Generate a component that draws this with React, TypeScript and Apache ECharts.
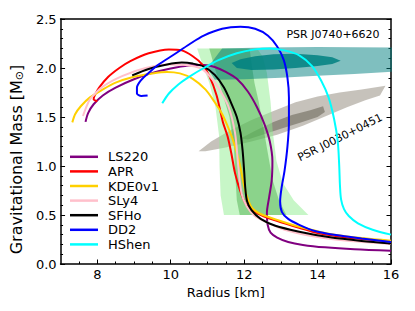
import React, { useEffect, useRef } from "react";
import * as echarts from "echarts";

// ---- Data (Radius [km], Gravitational Mass [Msun]) ----
const eosNames = ["LS220", "APR", "KDE0v1", "SLy4", "SFHo", "DD2", "HShen"];
const eosColors = ["#800080", "#ff0000", "#ffd000", "#ffc0cb", "#000000", "#0000ff", "#00ffff"];

const LS220 = [[7.68,1.45],[7.75,1.54],[7.9,1.63],[8.15,1.72],[8.5,1.8],[9.0,1.885],[9.5,1.95],[10.0,1.995],[10.5,2.025],[10.9,2.03],[11.2,2.01],[11.5,1.96],[11.8,1.89],[12.1,1.76],[12.35,1.6],[12.55,1.43],[12.7,1.25],[12.77,1.05],[12.75,0.85],[12.68,0.68],[12.62,0.52],[12.64,0.4],[12.72,0.32],[12.9,0.27],[13.2,0.225],[13.6,0.195],[14.2,0.17],[15.0,0.15],[16.0,0.135]];
const APR = [[8.0,1.66],[7.9,1.68],[7.93,1.72],[8.05,1.8],[8.3,1.91],[8.6,2.0],[8.9,2.07],[9.4,2.15],[9.95,2.19],[10.3,2.18],[10.6,2.12],[10.85,2.04],[11.05,1.92],[11.25,1.72],[11.42,1.45],[11.55,1.3],[11.65,1.13],[11.75,0.93],[11.88,0.76],[12.05,0.61],[12.35,0.52],[12.8,0.45],[13.5,0.37],[14.0,0.315],[14.8,0.27],[16.0,0.232]];
const KDE0v1 = [[7.32,1.445],[7.4,1.53],[7.55,1.61],[7.8,1.7],[8.1,1.77],[8.5,1.85],[9.0,1.91],[9.5,1.945],[9.9,1.96],[10.25,1.945],[10.6,1.89],[10.95,1.78],[11.2,1.65],[11.4,1.53],[11.6,1.36],[11.75,1.2],[11.88,1.02],[11.97,0.85],[12.05,0.72],[12.2,0.58],[12.45,0.51],[12.9,0.45],[13.5,0.38],[14.3,0.31],[15.2,0.265],[16.0,0.238]];
const SLy4 = [[7.61,1.51],[7.7,1.6],[7.8,1.68],[8.15,1.81],[8.69,1.92],[9.32,2.0],[9.95,2.035],[10.4,2.03],[10.85,1.99],[11.1,1.9],[11.3,1.8],[11.57,1.61],[11.75,1.34],[11.84,1.0],[11.93,0.72],[12.07,0.59],[12.29,0.49],[12.65,0.42],[13.1,0.35],[14.0,0.275],[14.9,0.235],[16.0,0.205]];
const SFHo = [[8.95,1.925],[9.4,1.99],[9.9,2.035],[10.3,2.055],[10.6,2.045],[10.9,2.015],[11.2,1.93],[11.45,1.8],[11.65,1.64],[11.8,1.5],[11.9,1.34],[11.96,1.15],[12.0,0.95],[12.03,0.78],[12.08,0.64],[12.2,0.55],[12.45,0.46],[12.85,0.39],[13.5,0.33],[14.3,0.275],[15.2,0.235],[16.0,0.21]];
const DD2 = [[9.37,1.72],[9.2,1.715],[9.08,1.74],[9.08,1.8],[9.2,1.88],[9.4,1.95],[9.65,2.03],[10.1,2.14],[10.5,2.24],[10.9,2.33],[11.4,2.4],[11.9,2.42],[12.3,2.4],[12.65,2.33],[12.9,2.22],[13.08,2.08],[13.18,1.9],[13.22,1.7],[13.22,1.45],[13.18,1.2],[13.1,0.95],[13.02,0.78],[12.98,0.64],[13.03,0.53],[13.2,0.46],[13.5,0.4],[13.9,0.34],[14.5,0.295],[15.2,0.26],[16.0,0.225]];
const HShen = [[9.77,1.64],[9.95,1.74],[10.2,1.83],[10.5,1.91],[10.9,2.0],[11.3,2.08],[11.8,2.15],[12.3,2.19],[12.7,2.2],[13.1,2.18],[13.5,2.13],[13.85,2.02],[14.1,1.87],[14.3,1.7],[14.45,1.48],[14.55,1.25],[14.59,1.0],[14.61,0.8],[14.64,0.66],[14.72,0.56],[14.85,0.49],[15.1,0.415],[15.5,0.35],[16.0,0.3]];
const eosData = [LS220, APR, KDE0v1, SLy4, SFHo, DD2, HShen];

// Constraint regions (polygons in data coordinates)
const greyOuter = [[10.76,1.15],[11.1,1.25],[11.6,1.36],[12.2,1.47],[12.8,1.56],[13.4,1.65],[14.0,1.71],[14.6,1.75],[15.2,1.78],[15.85,1.82],[15.7,1.72],[15.3,1.67],[14.8,1.6],[14.3,1.52],[13.6,1.41],[12.9,1.32],[12.2,1.25],[11.5,1.19],[10.95,1.15]];
const greyInner = [[11.9,1.28],[12.3,1.36],[12.8,1.45],[13.3,1.52],[13.8,1.57],[14.15,1.61],[14.2,1.55],[14.0,1.5],[13.5,1.44],[13.0,1.38],[12.5,1.32],[12.1,1.27]];
const greenOuter = [[10.72,2.2],[10.85,2.05],[11.05,1.85],[11.22,1.6],[11.32,1.3],[11.33,1.0],[11.36,0.7],[11.45,0.5],[13.75,0.5],[13.35,0.65],[13.05,0.83],[12.88,1.05],[12.78,1.35],[12.72,1.65],[12.62,1.95],[12.5,2.12],[12.35,2.2]];
const greenInner = [[11.05,2.2],[11.2,2.0],[11.4,1.75],[11.6,1.5],[11.72,1.2],[11.76,0.9],[11.8,0.65],[11.88,0.5],[13.15,0.5],[12.95,0.65],[12.78,0.85],[12.66,1.1],[12.52,1.4],[12.4,1.65],[12.28,1.85],[12.2,2.05],[12.15,2.2]];
const tealOuter = [[11.0,2.0],[11.4,2.2],[12.5,2.21],[14.0,2.215],[16.2,2.21],[16.2,1.965],[15.0,1.94],[14.0,1.92],[13.0,1.9],[12.0,1.885],[11.2,1.88]];
const tealInner = [[11.66,2.05],[11.9,2.09],[12.3,2.12],[12.8,2.14],[13.4,2.145],[14.0,2.13],[14.4,2.11],[14.63,2.075],[14.4,2.04],[14.0,2.02],[13.4,2.0],[12.8,1.985],[12.2,1.98],[11.8,2.0]];
const regions = [greyOuter, greyInner, greenOuter, greenInner, tealOuter, tealInner];
const regionColors = ["rgba(128,120,105,0.45)", "rgba(110,105,92,0.6)", "rgba(144,238,144,0.5)", "rgba(50,160,50,0.4)", "rgba(0,128,128,0.5)", "rgba(0,128,128,0.85)"];

// Annotations
const annoText = ["PSR J0740+6620", "PSR J0030+0451"];
const annoPos = [[14.42, 2.34], [14.61, 1.29]];
const annoAngle = [0, 26.6];

// Axis ticks
const xMajor = [8, 10, 12, 14, 16];
const xMinor = [7.5, 8.5, 9, 9.5, 10.5, 11, 11.5, 12.5, 13, 13.5, 14.5, 15, 15.5];

const FONT = "DejaVu Sans";

export default function App() {
  const ref = useRef<HTMLDivElement>(null);
  useEffect(() => {
    if (!ref.current) return;
    const chart = echarts.init(ref.current, undefined, { renderer: "svg" });
    const regionSeries = regions.map((poly, i) => ({
      type: "custom",
      xAxisIndex: 0,
      yAxisIndex: 0,
      clip: true,
      silent: true,
      data: [[poly[0][0], poly[0][1]]],
      renderItem: (_params: any, api: any) => ({
        type: "polygon",
        shape: { points: poly.map((p) => api.coord(p)) },
        style: { fill: regionColors[i] },
      }),
    }));
    const lineSeries = eosNames.map((name, i) => ({
      type: "line",
      name,
      xAxisIndex: 0,
      yAxisIndex: 0,
      data: eosData[i],
      symbol: "none",
      smooth: 0.3,
      clip: true,
      lineStyle: { color: eosColors[i], width: 2 },
      itemStyle: { color: eosColors[i] },
    }));
    const annoSeries = {
      type: "custom",
      xAxisIndex: 0,
      yAxisIndex: 0,
      silent: true,
      data: annoPos.map((p, i) => [p[0], p[1], i]),
      renderItem: (_params: any, api: any) => {
        const idx = api.value(2);
        const pt = api.coord([api.value(0), api.value(1)]);
        return {
          type: "text",
          x: pt[0],
          y: pt[1],
          rotation: (annoAngle[idx] * Math.PI) / 180,
          style: {
            text: annoText[idx],
            fontSize: 11,
            fontFamily: FONT,
            fill: "#000",
            align: "center",
            verticalAlign: "middle",
          },
        };
      },
    };
    const axisLine = { show: true, lineStyle: { color: "#000", width: 1.5 } };
    chart.setOption({
      animation: false,
      backgroundColor: "#fff",
      grid: { left: 57, right: 24, top: 19, bottom: 47, containLabel: false },
      legend: {
        data: eosNames,
        orient: "vertical",
        left: 70,
        top: 149.5,
        padding: 0,
        icon: "rect",
        itemWidth: 28,
        itemHeight: 2.5,
        itemGap: 0,
        textStyle: { fontSize: 13, fontFamily: FONT, color: "#000", lineHeight: 14.6, padding: [0, 0, 0, 5] },
      },
      xAxis: [
        {
          type: "value", min: 7, max: 16, position: "bottom",
          axisLine,
          axisTick: { show: true, inside: true, length: 4.5, lineStyle: { color: "#000", width: 1 }, customValues: xMajor },
          axisLabel: { show: true, customValues: xMajor, fontSize: 13, fontFamily: FONT, color: "#000", margin: 4 },
          splitLine: { show: false },
          name: "Radius [km]", nameLocation: "middle", nameGap: 20,
          nameTextStyle: { fontSize: 13, fontFamily: FONT, color: "#000" },
        },
        {
          type: "value", min: 7, max: 16, position: "bottom",
          axisLine: { show: false },
          axisTick: { show: true, inside: true, length: 2.5, lineStyle: { color: "#000", width: 1 }, customValues: xMinor },
          axisLabel: { show: false },
          splitLine: { show: false },
        },
        {
          type: "value", min: 7, max: 16, position: "top",
          axisLine,
          axisTick: { show: false },
          axisLabel: { show: false },
          splitLine: { show: false },
        },
      ],
      yAxis: [
        {
          type: "value", min: 0, max: 2.5, interval: 0.5, position: "left",
          axisLine,
          axisTick: { show: true, inside: true, length: 4.5, lineStyle: { color: "#000", width: 1 } },
          minorTick: { show: true, splitNumber: 5, length: 2.5, lineStyle: { color: "#000", width: 1 } },
          axisLabel: { formatter: (v: number) => v.toFixed(1), fontSize: 13, fontFamily: FONT, color: "#000", margin: 4 },
          splitLine: { show: false },
          name: "Gravitational Mass [M{sub|⊙}]", nameLocation: "middle", nameGap: 27,
          nameTextStyle: {
            fontSize: 16, fontFamily: FONT, color: "#000", padding: [0, 36, 0, 0],
            rich: { sub: { fontSize: 11, fontFamily: FONT, color: "#000", padding: [7, 0, 0, 0] } },
          },
        },
        {
          type: "value", min: 0, max: 2.5, interval: 0.5, position: "right",
          axisLine,
          axisTick: { show: true, inside: true, length: 4.5, lineStyle: { color: "#000", width: 1 } },
          minorTick: { show: true, splitNumber: 5, length: 2.5, lineStyle: { color: "#000", width: 1 } },
          axisLabel: { show: false },
          splitLine: { show: false },
        },
      ],
      series: [...regionSeries, ...lineSeries, annoSeries],
    });
    return () => chart.dispose();
  }, []);
  return <div ref={ref} style={{ position: "absolute", left: 0, top: 0, width: 415, height: 311 }} />;
}
